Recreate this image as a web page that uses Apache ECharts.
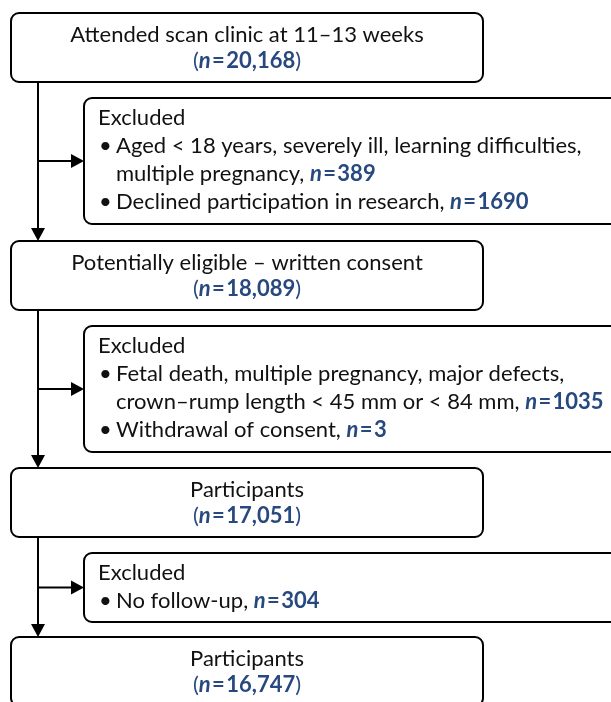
<!DOCTYPE html>
<html>
<head>
<meta charset="UTF-8">
<title>Flow of participants</title>
<style>
  * { margin: 0; padding: 0; }
  html, body { width: 100%; height: 100%; background: #fff; }
  #main { width: 611px; height: 702px; }
</style>
<script src="https://cdn.jsdelivr.net/npm/echarts@6/dist/echarts.min.js"></script>
</head>
<body>
<div id="main"></div>
<script>
// stage boxes
var stageLabels = ['Attended scan clinic at 11\u201313 weeks', 'Potentially eligible \u2013 written consent', 'Participants', 'Participants'];
var stageCounts = ['20,168', '18,089', '17,051', '16,747'];

// exclusion boxes: each bullet is a list of text lines, the count goes after the last line
var exclusionBullets = [
  [['Aged < 18 years, severely ill, learning difficulties,', 'multiple pregnancy,'], ['Declined participation in research,']],
  [['Fetal death, multiple pregnancy, major defects,', 'crown\u2013rump length < 45 mm or < 84 mm,'], ['Withdrawal of consent,']],
  [['No follow-up,']]
];
var exclusionCounts = [['389', '1690'], ['1035', '3'], ['304']];

// layout
var stageTop = [13, 241, 468, 637];
var stageH = 69;
var stageLeft = 11, stageRight = 483;
var exclTop = [98, 326, 553];
var exclBottom = [224, 452, 622];
var exclLeft = 84;
var spineX = 38;
var lineH = 28;
var FS = 22;

var BLUE = '#27497f';
var FONT = 'Lato, "Open Sans", sans-serif';
var rich = {
  p: { fill: BLUE, fontSize: FS, fontFamily: FONT },
  ni: { fill: BLUE, fontSize: FS, fontFamily: FONT, fontStyle: 'italic', fontWeight: 'bold' },
  nb: { fill: BLUE, fontSize: FS, fontFamily: FONT, fontWeight: 'bold' }
};
var EQ = '\u200A=\u200A';

function text(x, y, str, align) {
  return {
    type: 'text', x: x, y: y, silent: true,
    style: {
      text: str, fill: '#111', fontSize: FS, fontFamily: FONT,
      align: align || 'left', verticalAlign: 'middle', rich: rich
    }
  };
}

function arrowHead(x, y, dir) {
  // dir 'down' or 'right', tip at (x, y)
  var pts = dir === 'down'
    ? [[x - 7, y - 13], [x + 7, y - 13], [x, y]]
    : [[x - 13, y - 7], [x - 13, y + 7], [x, y]];
  return { type: 'polygon', silent: true, shape: { points: pts }, style: { fill: '#000' } };
}

var elements = [];
var cx = (stageLeft + stageRight) / 2;

stageLabels.forEach(function (lab, i) {
  var top = stageTop[i];
  elements.push({
    type: 'rect', silent: true,
    shape: { x: stageLeft, y: top, width: stageRight - stageLeft, height: stageH, r: 8 },
    style: { fill: '#fff', stroke: '#000', lineWidth: 2 }
  });
  elements.push(text(cx, top + 22, lab, 'center'));
  elements.push(text(cx, top + 48, '{p|(}{ni|n}{nb|' + EQ + stageCounts[i] + '}{p|)}', 'center'));
});

exclusionBullets.forEach(function (bullets, i) {
  var top = exclTop[i], bot = exclBottom[i];
  elements.push({
    type: 'rect', silent: true,
    shape: { x: exclLeft, y: top, width: 560, height: bot - top, r: 8 },
    style: { fill: '#fff', stroke: '#000', lineWidth: 2 }
  });
  var y = top + 20;
  elements.push(text(98, y, 'Excluded'));
  bullets.forEach(function (lines, b) {
    lines.forEach(function (ln, k) {
      y += lineH;
      if (k === 0) elements.push(text(99, y, '\u2022'));
      var s = ln;
      if (k === lines.length - 1) s += ' {ni|n}{nb|' + EQ + exclusionCounts[i][b] + '}';
      elements.push(text(116, y, s));
    });
  });
  // branch arrow
  var my = (top + bot) / 2;
  elements.push({ type: 'line', silent: true, shape: { x1: spineX, y1: my, x2: exclLeft - 12, y2: my }, style: { stroke: '#000', lineWidth: 2 } });
  elements.push(arrowHead(exclLeft, my, 'right'));
  // spine
  var y1 = stageTop[i] + stageH, y2 = stageTop[i + 1];
  elements.push({ type: 'line', silent: true, shape: { x1: spineX, y1: y1, x2: spineX, y2: y2 - 12 }, style: { stroke: '#000', lineWidth: 2 } });
  elements.push(arrowHead(spineX, y2, 'down'));
});

var chart = echarts.init(document.getElementById('main'), null, { renderer: 'canvas' });
chart.setOption({
  backgroundColor: '#fff',
  animation: false,
  graphic: { elements: elements }
});
</script>
</body>
</html>
